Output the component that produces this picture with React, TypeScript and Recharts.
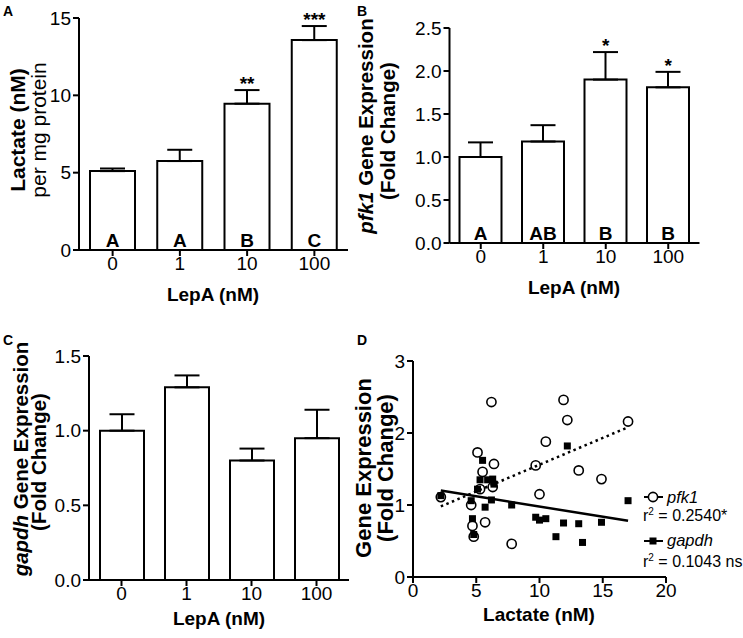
import React from 'react';
import {
  ComposedChart, Bar, Line, ErrorBar, LabelList, XAxis, YAxis,
  ScatterChart, Scatter,
} from 'recharts';

// LepA dose groups (shared by panels A-C)
const doses = ['0', '1', '10', '100'];

// A: lactate per mg protein
const lactate = [5.1, 5.75, 9.46, 13.57];
const lactateErr = [0.17, 0.73, 0.88, 0.91];
const lactateLetters = ['A', 'A', 'B', 'C'];
const lactateSig = ['', '', '**', '***'];

// B: pfk1 fold change
const pfk1 = [1.0, 1.18, 1.9, 1.81];
const pfk1Err = [0.17, 0.19, 0.32, 0.18];
const pfk1Letters = ['A', 'AB', 'B', 'B'];
const pfk1Sig = ['', '', '*', '*'];

// C: gapdh fold change
const gapdh = [1.0, 1.29, 0.8, 0.95];
const gapdhErr = [0.11, 0.08, 0.08, 0.19];

// D: individual samples, lactate (nM) vs fold change
const pfkLactate = [2.2, 4.6, 4.7, 4.8, 5.1, 5.5, 5.3, 5.7, 6.2, 6.4, 6.3, 7.8, 9.7, 10.0, 10.5, 11.9, 12.2, 13.1, 14.9, 17.0];
const pfkFold = [1.11, 1.0, 0.71, 0.56, 1.73, 1.46, 1.22, 0.76, 2.43, 1.57, 1.25, 0.46, 1.55, 1.15, 1.88, 2.46, 2.18, 1.48, 1.36, 2.16];
const gapdhLactate = [2.2, 4.6, 4.7, 4.8, 5.5, 5.3, 5.1, 5.7, 5.9, 6.3, 6.4, 6.2, 7.8, 9.7, 10.0, 10.5, 11.3, 11.9, 12.2, 13.1, 13.4, 14.9, 17.0];
const gapdhFold = [1.13, 1.06, 0.81, 0.59, 1.62, 1.35, 1.22, 0.97, 1.35, 1.36, 1.29, 1.07, 1.0, 0.83, 0.79, 0.81, 0.56, 0.75, 1.82, 0.74, 0.48, 0.76, 1.06];

// regression fits (end points)
const pfkFitX = [2.2, 17.0];
const pfkFitY = [0.98, 2.08];
const gapdhFitX = [2.2, 17.0];
const gapdhFitY = [1.2, 0.78];

const FONT = '"Liberation Sans", Arial, sans-serif';
const tickStyle = { fill: '#000', fontSize: 19 };
const axisLine = { stroke: '#000', strokeWidth: 2 };

type BarPanelProps = {
  left: number; top: number; width: number; height: number;
  margin: { top: number; right: number; bottom: number; left: number };
  yWidth: number; domain: [number, number]; ticks: number[]; decimals: number;
  values: number[]; errs: number[]; letters?: string[]; sig?: string[]; barSize: number;
};

const BarPanel = (p: BarPanelProps) => {
  const data = doses.map((d, i) => ({
    dose: d,
    v: p.values[i],
    err: [0, p.errs[i]],
    top: p.values[i] + p.errs[i],
    letter: p.letters ? p.letters[i] : '',
    sig: p.sig ? p.sig[i] : '',
  }));
  return (
    <div style={{ position: 'absolute', left: p.left, top: p.top }}>
      <ComposedChart width={p.width} height={p.height} data={data} margin={p.margin}>
        <XAxis dataKey="dose" height={30} tick={tickStyle} tickSize={6} tickMargin={1} axisLine={axisLine} tickLine={axisLine} interval={0} />
        <YAxis
          width={p.yWidth} domain={p.domain} ticks={p.ticks} tick={tickStyle} tickSize={6}
          axisLine={axisLine} tickLine={axisLine} allowDataOverflow
          tickFormatter={(v: number) => v.toFixed(p.decimals)}
        />
        <Bar dataKey="v" fill="#fff" stroke="#000" strokeWidth={2} barSize={p.barSize} isAnimationActive={false}>
          <ErrorBar dataKey="err" direction="y" width={12.5} stroke="#000" strokeWidth={2} />
          {p.letters && (
            <LabelList dataKey="letter" position="insideBottom" offset={3} fill="#000" fontSize={19} fontWeight="bold" />
          )}
        </Bar>
        {p.sig && (
          <Line dataKey="top" stroke="none" dot={false} activeDot={false} legendType="none" isAnimationActive={false}>
            <LabelList dataKey="sig" position="top" offset={0} fill="#000" fontSize={19} fontWeight="bold" />
          </Line>
        )}
      </ComposedChart>
    </div>
  );
};

const ScatterPanel = () => {
  const pfkPts = pfkLactate.map((x, i) => ({ x, y: pfkFold[i] }));
  const gapdhPts = gapdhLactate.map((x, i) => ({ x, y: gapdhFold[i] }));
  const pfkFit = pfkFitX.map((x, i) => ({ x, y: pfkFitY[i] }));
  const gapdhFit = gapdhFitX.map((x, i) => ({ x, y: gapdhFitY[i] }));
  return (
    <div style={{ position: 'absolute', left: 360, top: 330 }}>
      <ScatterChart width={383} height={308} margin={{ top: 31, right: 77, bottom: 31, left: 0 }}>
        <XAxis type="number" dataKey="x" height={30} domain={[0, 20]} ticks={[0, 5, 10, 15, 20]} tick={tickStyle}
          tickSize={6} tickMargin={1} axisLine={axisLine} tickLine={axisLine} />
        <YAxis type="number" dataKey="y" width={53} domain={[0, 3]} ticks={[0, 1, 2, 3]} tick={tickStyle}
          tickSize={6} axisLine={axisLine} tickLine={axisLine} />
        <Scatter data={gapdhFit} line={{ stroke: '#000', strokeWidth: 2.5 }} shape={() => <g />} isAnimationActive={false} />
        <Scatter data={pfkFit} line={{ stroke: '#000', strokeWidth: 2.5, strokeDasharray: '2.5 3.5' }} shape={() => <g />} isAnimationActive={false} />
        <Scatter data={gapdhPts} isAnimationActive={false}
          shape={(s: any) => <rect x={s.cx - 3.5} y={s.cy - 3.5} width={7} height={7} fill="#000" />} />
        <Scatter data={pfkPts} isAnimationActive={false}
          shape={(s: any) => <circle cx={s.cx} cy={s.cy} r={4.6} fill="none" stroke="#000" strokeWidth={1.6} />} />
      </ScatterChart>
    </div>
  );
};

const VLabel = ({ x, y, size, children }: { x: number; y: number; size: number; children: React.ReactNode }) => (
  <text x={x} y={y} transform={`rotate(-90 ${x} ${y})`} textAnchor="middle" dominantBaseline="central" fontSize={size}>
    {children}
  </text>
);

const Overlay = () => (
  <svg width={743} height={638} style={{ position: 'absolute', left: 0, top: 0, pointerEvents: 'none' }}>
    <g fontFamily={FONT} fill="#000">
      {/* panel letters */}
      <text x={3} y={16} fontSize={14} fontWeight="bold">A</text>
      <text x={357} y={16} fontSize={14} fontWeight="bold">B</text>
      <text x={3} y={345} fontSize={14} fontWeight="bold">C</text>
      <text x={357} y={345} fontSize={14} fontWeight="bold">D</text>

      {/* A */}
      <VLabel x={17} y={130} size={21}><tspan fontWeight="bold">Lactate (nM)</tspan></VLabel>
      <VLabel x={38} y={130} size={21}>per mg protein</VLabel>
      <text x={213} y={301} fontSize={19} fontWeight="bold" textAnchor="middle">LepA (nM)</text>

      {/* B */}
      <VLabel x={365} y={126} size={20.5}>
        <tspan fontWeight="bold" fontStyle="italic">pfk1</tspan>
        <tspan fontWeight="bold"> Gene Expression</tspan>
      </VLabel>
      <VLabel x={387} y={131} size={20.5}><tspan fontWeight="bold">(Fold Change)</tspan></VLabel>
      <text x={574} y={294} fontSize={19} fontWeight="bold" textAnchor="middle">LepA (nM)</text>

      {/* C */}
      <VLabel x={20} y={459} size={20.5}>
        <tspan fontWeight="bold" fontStyle="italic">gapdh</tspan>
        <tspan fontWeight="bold"> Gene Expression</tspan>
      </VLabel>
      <VLabel x={38} y={462} size={20.5}><tspan fontWeight="bold">(Fold Change)</tspan></VLabel>
      <text x={219} y={625} fontSize={19} fontWeight="bold" textAnchor="middle">LepA (nM)</text>

      {/* D */}
      <VLabel x={363} y={468} size={22}><tspan fontWeight="bold">Gene Expression</tspan></VLabel>
      <VLabel x={385} y={468} size={22}><tspan fontWeight="bold">(Fold Change)</tspan></VLabel>
      <text x={539} y={621} fontSize={19} fontWeight="bold" textAnchor="middle">Lactate (nM)</text>

      {/* D legend */}
      <line x1={644} y1={497} x2={663} y2={497} stroke="#000" strokeWidth={2} />
      <circle cx={653} cy={497} r={4.6} fill="#fff" stroke="#000" strokeWidth={1.6} />
      <text x={667} y={503} fontSize={16.5} fontStyle="italic">pfk1</text>
      <text x={643} y={521} fontSize={16}>r<tspan dy={-6} fontSize={10}>2</tspan><tspan dy={6}> = 0.2540*</tspan></text>
      <line x1={644} y1={541} x2={663} y2={541} stroke="#000" strokeWidth={2} />
      <rect x={649.5} y={537.5} width={7} height={7} fill="#000" />
      <text x={667} y={546} fontSize={16.5} fontStyle="italic">gapdh</text>
      <text x={643} y={567} fontSize={16}>r<tspan dy={-6} fontSize={10}>2</tspan><tspan dy={6}> = 0.1043 ns</tspan></text>
    </g>
  </svg>
);

export default function App() {
  return (
    <div style={{ position: 'absolute', left: 0, top: 0, width: 743, height: 638, background: '#fff', fontFamily: FONT }}>
      <BarPanel left={0} top={0} width={360} height={320} margin={{ top: 18, right: 12, bottom: 40, left: 0 }}
        yWidth={79} domain={[0, 15]} ticks={[0, 5, 10, 15]} decimals={0}
        values={lactate} errs={lactateErr} letters={lactateLetters} sig={lactateSig} barSize={45} />
      <BarPanel left={370} top={0} width={340} height={320} margin={{ top: 28, right: 10.5, bottom: 47, left: 0 }}
        yWidth={79.5} domain={[0, 2.5]} ticks={[0, 0.5, 1, 1.5, 2, 2.5]} decimals={1}
        values={pfk1} errs={pfk1Err} letters={pfk1Letters} sig={pfk1Sig} barSize={42} />
      <BarPanel left={0} top={330} width={360} height={308} margin={{ top: 26, right: 11, bottom: 28, left: 0 }}
        yWidth={89} domain={[0, 1.5]} ticks={[0, 0.5, 1, 1.5]} decimals={1}
        values={gapdh} errs={gapdhErr} barSize={44} />
      <ScatterPanel />
      <Overlay />
    </div>
  );
}
